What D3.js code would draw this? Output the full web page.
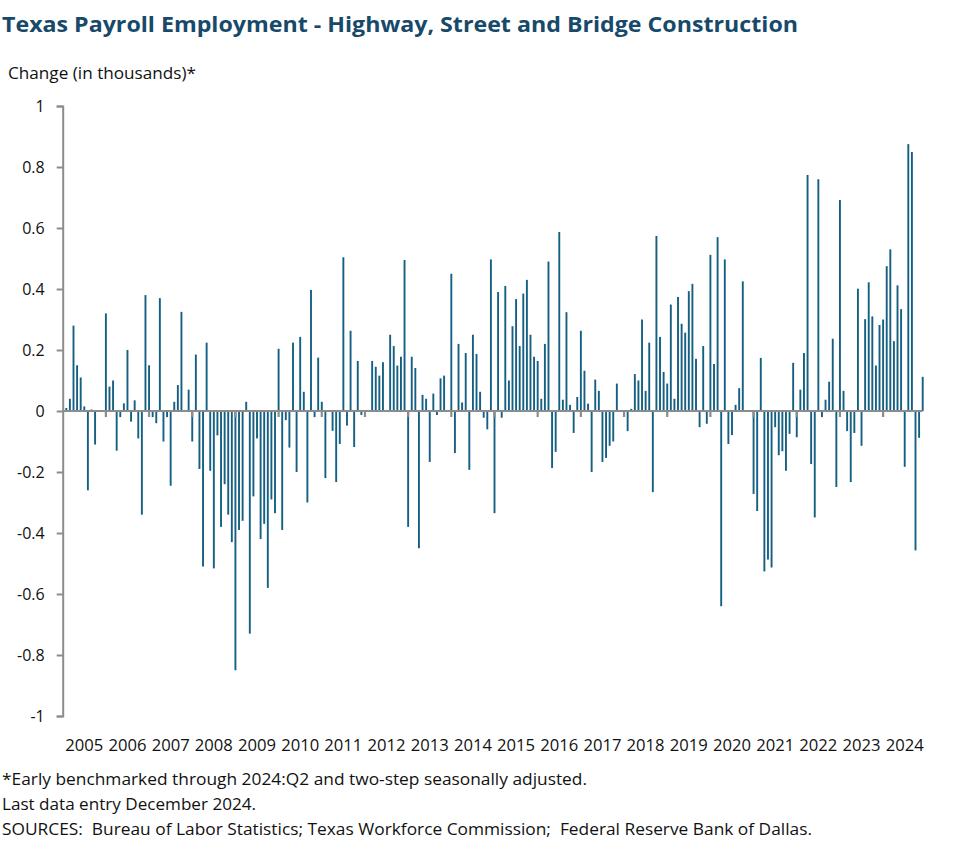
<!DOCTYPE html>
<html>
<head>
<meta charset="utf-8">
<script src="https://cdn.jsdelivr.net/npm/d3@7"></script>
<style>
  html, body { margin: 0; padding: 0; background: #ffffff; }
  svg { display: block; }
  text { font-family: "Open Sans", "Noto Sans", sans-serif; }
</style>
</head>
<body>
<svg id="chart" width="977" height="864"></svg>
<script>
// ---- Data (monthly change, thousands) ----
const startYear = 2005;
const startMonth = 1; // 0 = Jan; first bar is Feb 2005
const changes = [
  // 2005 Feb-Dec
  0.01, 0.04, 0.28, 0.15, 0.11, 0.015, -0.26, 0.005, -0.11, 0, 0,
  // 2006
  0.32, 0.08, 0.10, -0.13, -0.02, 0.025, 0.20, -0.035, 0.035, -0.09, -0.34, 0.38,
  // 2007
  0.15, -0.02, -0.04, 0.37, -0.10, -0.02, -0.245, 0.03, 0.085, 0.325, 0, 0.07,
  // 2008
  -0.10, 0.185, -0.19, -0.51, 0.224, -0.196, -0.516, -0.08, -0.38, -0.24, -0.34, -0.43,
  // 2009
  -0.85, -0.39, -0.36, 0.03, -0.73, -0.28, -0.09, -0.42, -0.37, -0.58, -0.29, -0.335,
  // 2010
  0.204, -0.39, -0.03, -0.12, 0.224, -0.2, 0.243, 0.063, -0.30, 0.397, -0.02, 0.175,
  // 2011
  0.03, -0.22, 0, -0.065, -0.233, -0.108, 0.504, -0.048, 0.263, -0.118, 0.164, -0.013,
  // 2012
  -0.01, 0, 0.164, 0.145, 0.116, 0.16, 0.003, 0.25, 0.213, 0.149, 0.178, 0.495,
  // 2013
  -0.38, 0.178, 0.141, -0.45, 0.053, 0.04, -0.167, 0.057, -0.013, 0.107, 0.116, 0,
  // 2014
  0.45, -0.138, 0.22, 0.028, 0.19, -0.193, 0.25, 0.187, 0.063, -0.022, -0.06, 0.497,
  // 2015
  -0.335, 0.39, -0.022, 0.41, 0.1, 0.278, 0.367, 0.213, 0.385, 0.43, 0.25, 0.178,
  // 2016
  0.164, 0.04, 0.22, 0.49, -0.187, -0.134, 0.587, 0.037, 0.324, 0.02, -0.072, 0.046,
  // 2017
  0.263, 0.132, 0.024, -0.2, 0.103, 0.066, -0.167, -0.154, -0.114, -0.1, 0.09, 0,
  // 2018
  0, -0.066, 0.007, 0.121, 0.1, 0.3, 0.066, 0.224, -0.266, 0.574, 0.243, 0.128,
  // 2019
  0.09, 0.349, 0.04, 0.374, 0.286, 0.257, 0.393, 0.417, 0.171, -0.053, 0.213, -0.042,
  // 2020
  0.512, 0.154, 0.57, -0.64, 0.497, -0.108, -0.079, 0.02, 0.075, 0.425, 0, 0,
  // 2021
  -0.272, -0.328, 0.174, -0.526, -0.487, -0.513, -0.053, -0.145, -0.132, -0.196, -0.075, 0.158,
  // 2022
  -0.086, 0.07, 0.19, 0.774, -0.174, -0.349, 0.76, -0.02, 0.037, 0.096, 0.237, -0.249,
  // 2023
  0.692, 0.066, -0.066, -0.233, -0.072, 0.401, -0.114, 0.301, 0.422, 0.31, 0.149, 0.282,
  // 2024
  0.3, 0.475, 0.53, 0.229, 0.412, 0.334, -0.183, 0.875, 0.849, -0.457, -0.088, 0.112
];
const yearLabels = ["2005","2006","2007","2008","2009","2010","2011","2012","2013","2014",
                    "2015","2016","2017","2018","2019","2020","2021","2022","2023","2024"];
const yTickValues = [1, 0.8, 0.6, 0.4, 0.2, 0, -0.2, -0.4, -0.6, -0.8, -1];
const yTickLabels = ["1","0.8","0.6","0.4","0.2","0","-0.2","-0.4","-0.6","-0.8","-1"];

const titleText = "Texas Payroll Employment - Highway, Street and Bridge Construction";
const yAxisTitle = "Change (in thousands)*";
const notes = [
  "*Early benchmarked through 2024:Q2 and two-step seasonally adjusted.",
  "Last data entry December 2024.",
  "SOURCES:  Bureau of Labor Statistics; Texas Workforce Commission;  Federal Reserve Bank of Dallas."
];

// ---- Layout ----
const barColor = "#156082";
const axisColor = "#8c8c8c";
const titleColor = "#17496a";

const svg = d3.select("#chart");

// month index from Jan 2005 (0) to Dec 2024 (239)
const rows = changes.map((v, i) => ({ m: startMonth + i, v }));
const lastM = 20 * 12 - 1;

const x = d3.scaleLinear().domain([0, lastM]).range([62.7, 922.7]);
const y = d3.scaleLinear().domain([-1, 1]).range([716, 106]);

// Title
svg.append("text")
  .attr("x", 2).attr("y", 32)
  .attr("font-size", 22).attr("font-weight", 700)
  .attr("fill", titleColor)
  .attr("textLength", 796).attr("lengthAdjust", "spacingAndGlyphs")
  .text(titleText);

// Y axis title
svg.append("text")
  .attr("x", 8).attr("y", 79)
  .attr("font-size", 15.5).attr("fill", "#111")
  .attr("textLength", 188).attr("lengthAdjust", "spacingAndGlyphs")
  .text(yAxisTitle);

// Bars
svg.append("g").selectAll("rect")
  .data(rows)
  .join("rect")
  .attr("x", d => x(d.m) - 0.95)
  .attr("width", 1.9)
  .attr("y", d => y(Math.max(0, d.v)))
  .attr("height", d => Math.abs(y(d.v) - y(0)))
  .attr("fill", barColor);

// Y axis
const yAxis = d3.axisLeft(y)
  .tickValues(yTickValues)
  .tickFormat((d, i) => yTickLabels[i])
  .tickSize(6)
  .tickPadding(12);
const gy = svg.append("g").attr("transform", `translate(${x(0)},0)`).call(yAxis);
gy.select(".domain").attr("stroke", axisColor).attr("stroke-width", 2);
gy.selectAll(".tick line").attr("stroke", axisColor).attr("stroke-width", 2);
gy.selectAll(".tick text")
  .attr("font-size", 16).attr("fill", "#111")
  .attr("font-family", "'Open Sans', 'Noto Sans', sans-serif");

// Zero line (category axis)
svg.append("line")
  .attr("x1", x(0)).attr("x2", x(lastM))
  .attr("y1", y(0)).attr("y2", y(0))
  .attr("stroke", axisColor).attr("stroke-width", 2);

// Year tick marks (at January of each year)
const yearStarts = d3.range(1, 20).map(k => k * 12);
svg.append("g").selectAll("line")
  .data(yearStarts)
  .join("line")
  .attr("x1", d => x(d)).attr("x2", d => x(d))
  .attr("y1", y(0)).attr("y2", y(0) + 6)
  .attr("stroke", axisColor).attr("stroke-width", 2.2);

// Year labels, centered within each year
svg.append("g").selectAll("text")
  .data(yearLabels)
  .join("text")
  .attr("x", (d, i) => (x(i * 12) + x(Math.min(i * 12 + 12, lastM + 1))) / 2)
  .attr("y", 751)
  .attr("text-anchor", "middle")
  .attr("font-size", 16).attr("fill", "#111")
  .attr("textLength", 38).attr("lengthAdjust", "spacingAndGlyphs")
  .text(d => d);

// Footnotes
const noteWidths = [585, 254, 810];
svg.append("g").selectAll("text")
  .data(notes)
  .join("text")
  .attr("x", 2)
  .attr("y", (d, i) => 785 + i * 25)
  .attr("font-size", 15.5).attr("fill", "#111")
  .attr("textLength", (d, i) => noteWidths[i]).attr("lengthAdjust", "spacingAndGlyphs")
  .attr("xml:space", "preserve")
  .text(d => d);
</script>
</body>
</html>
